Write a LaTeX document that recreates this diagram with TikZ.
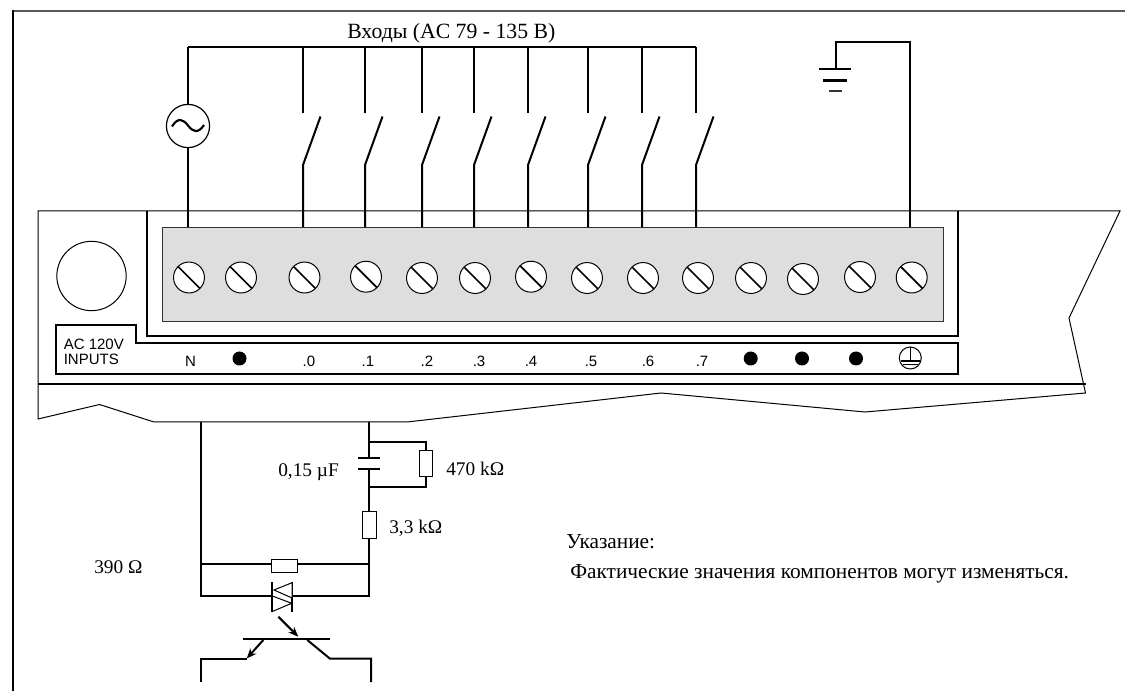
\documentclass[tikz,border=0pt]{standalone}
\usepackage{fontspec}
\setmainfont{Liberation Serif}
\newfontfamily\labsans{Liberation Sans}
\usetikzlibrary{arrows.meta}
\definecolor{panelgrey}{HTML}{DEDEDE}
\tikzset{
  wire/.style={line width=1.5pt,black,line cap=butt,line join=miter},
  hair/.style={line width=.75pt,black},
  part/.style={draw=black,line width=.75pt,fill=white,rectangle,inner sep=0pt},
  screw/.style={circle,draw=black,line width=.75pt,fill=white,minimum size=23.2pt,inner sep=0pt},
  bigdot/.style={circle,fill=black,minimum size=10.5pt,inner sep=0pt},
  slabel/.style={inner sep=0pt,font=\labsans\fontsize{11.25}{11.25}\selectfont},
  tlabel/.style={inner sep=0pt,anchor=west,font=\fontsize{14.5}{16}\selectfont},
  rlabel/.style={inner sep=0pt,anchor=west,font=\fontsize{16}{18}\selectfont},
  arrowed/.style={line width=1.5pt,-{Stealth[length=7.5pt,width=6pt]}}
}
\begin{document}
\begin{tikzpicture}[x=.75pt,y=-.75pt]
\useasboundingbox (0,0) rectangle (1125,691);
% sheet edges
\draw[line width=1.5pt,black!65] (12,11) -- (1125,11);
\draw[line width=1.5pt] (12.5,10) -- (12.5,691);
% module outline
\draw[hair,line join=miter] (1120,211) -- (38,211) -- (38,419) -- (99.5,404.5) -- (154,422) -- (407,422) -- (661,393) -- (865,412) -- (1085.5,393) -- (1069,318) -- cycle;
\draw[line width=1.5pt] (38,384) -- (1086,384);
% terminal recess
\draw[wire] (147,211) -- (147,336.5) -- (958,336.5) -- (958,211);
\draw[wire] (56,325.5) -- (135.5,325.5) -- (135.5,343) -- (958,343) -- (958,374) -- (56,374) -- cycle;
\node[draw=black!80,line width=.75pt,fill=panelgrey,minimum width=586pt,minimum height=70.5pt,inner sep=0pt,anchor=north west] (panel) at (161.5,227) {};
\node[circle,draw=black,line width=.75pt,fill=white,minimum size=52pt,inner sep=0pt] (lens) at (91.5,276) {};
% screws
\foreach \n/\x/\y in {a/189/277.5,b/241/277.5,c/304.5/277.5,d/366/276.7,e/422/278,f/475/278,g/531/276.7,h/587/278,i/643/278,j/698/278,k/751/278,l/803/279,m/860/277,n/911.7/277.5}{
  \node[screw] (s\n) at (\x,\y) {};
  \draw[line width=1.3pt] (\x-11,\y-11) -- (\x+11,\y+11);
}
% bus and switches
\coordinate (busL) at (188,47.5);
\coordinate (busR) at (695.5,47.5);
\draw[wire] (busL) -- (busR);
\node[circle,draw=black,line width=.9pt,fill=white,minimum size=32.4pt,inner sep=0pt] (src) at (188,126) {};
\draw[wire] (busL) -- (src.north);
\draw[wire] (src.south) -- (188,227);
\draw[line width=1.6pt] (172,126.5) .. controls (178,117) and (183,119) .. (188,125.5) .. controls (193,132) and (198,134) .. (204,125);
\foreach \x in {303,365,422,474,528,588,642,696}{
  \draw[wire] (\x,47.5) -- (\x,113.5);
  \draw[wire] (\x,227) -- (\x,165) -- (\x+17.5,116.5);
}
% earth
\coordinate (gndT) at (836,42);
\draw[wire] (910,227) -- (910,42) -- (gndT) -- (836,69);
\draw[wire] (819,69) -- (851,69);
\draw[line width=1.9pt] (823,80.5) -- (847,80.5);
\draw[line width=1.3pt,black!80] (829,91) -- (842,91);
% strip labels
\node[slabel,anchor=west,align=left] (ac) at (63.5,344) {AC 120V};
\node[slabel,anchor=west,align=left] (inp) at (63.5,359) {INPUTS};
\node[slabel] (ln) at (190.5,361) {N};
\node[slabel] (l0) at (309,361) {.0};
\node[slabel] (l1) at (368,361) {.1};
\node[slabel] (l2) at (427,361) {.2};
\node[slabel] (l3) at (479,361) {.3};
\node[slabel] (l4) at (531,361) {.4};
\node[slabel] (l5) at (591,361) {.5};
\node[slabel] (l6) at (648,361) {.6};
\node[slabel] (l7) at (702,361) {.7};
\node[bigdot] (d1) at (239.5,358.5) {};
\node[bigdot] (d2) at (750.7,358.5) {};
\node[bigdot] (d3) at (802,358.5) {};
\node[bigdot] (d4) at (856,358.5) {};
% earth mark
\node[circle,draw=black,line width=.75pt,minimum size=16.5pt,inner sep=0pt] (pe) at (910.3,358) {};
\draw[line width=1pt] (910.3,347) -- (910.3,361);
\draw[line width=1.5pt] (900.5,361) -- (920,361);
\draw[line width=1.2pt] (903,364.5) -- (917.5,364.5);
% input circuit
\coordinate (nL) at (201,422);
\coordinate (nR) at (369,422);
\draw[wire] (nL) -- (201,596) -- (272,596);
\draw[wire] (292,596) -- (369,596) -- (369,469);
\draw[wire] (nR) -- (369,458);
\draw[wire] (358,458) -- (380,458);
\draw[wire] (358,469) -- (380,469);
\draw[wire] (369,442) -- (425.5,442) -- (425.5,487) -- (369,487);
\node[part,minimum width=10pt,minimum height=19.5pt] (r470) at (425.7,464) {};
\node[part,minimum width=10pt,minimum height=19.5pt] (r33) at (369.5,525) {};
\draw[wire] (201,564) -- (369,564);
\node[part,minimum width=19pt,minimum height=9.7pt] (r390) at (284.5,566) {};
% optotriac
\draw[wire] (272,582) -- (272,611.5);
\draw[wire] (292,582) -- (292,612);
\draw[hair,fill=white,line join=miter] (292,582.7) -- (274,590) -- (292,598) -- cycle;
\draw[hair,fill=white,line join=miter] (272.3,596) -- (291.7,603.3) -- (272.3,611.5) -- cycle;
\draw[arrowed] (278.3,616.7) -- (298.3,636.7);
% transistor
\draw[wire] (243.3,639) -- (330,639);
\draw[arrowed] (263.3,640) -- (246.7,658.5);
\draw[wire] (246.7,658.7) -- (201,658.7) -- (201,682);
\draw[wire] (307.3,640) -- (330,658.7) -- (371,658.7) -- (371,682);
% texts
\node[rlabel,font=\fontsize{16.3}{18}\selectfont] (title) at (347,33) {Входы (AC 79 - 135 В)};
\node[tlabel] (t1) at (278,472) {0,15 µF};
\node[tlabel] (t2) at (446,469) {470 kΩ};
\node[tlabel] (t3) at (389,528) {3,3 kΩ};
\node[tlabel] (t4) at (94,567) {390 Ω};
\node[rlabel] (t5) at (566,542) {Указание:};
\node[rlabel] (t6) at (570,574) {Фактические значения компонентов могут изменяться.};
\end{tikzpicture}
\end{document}
